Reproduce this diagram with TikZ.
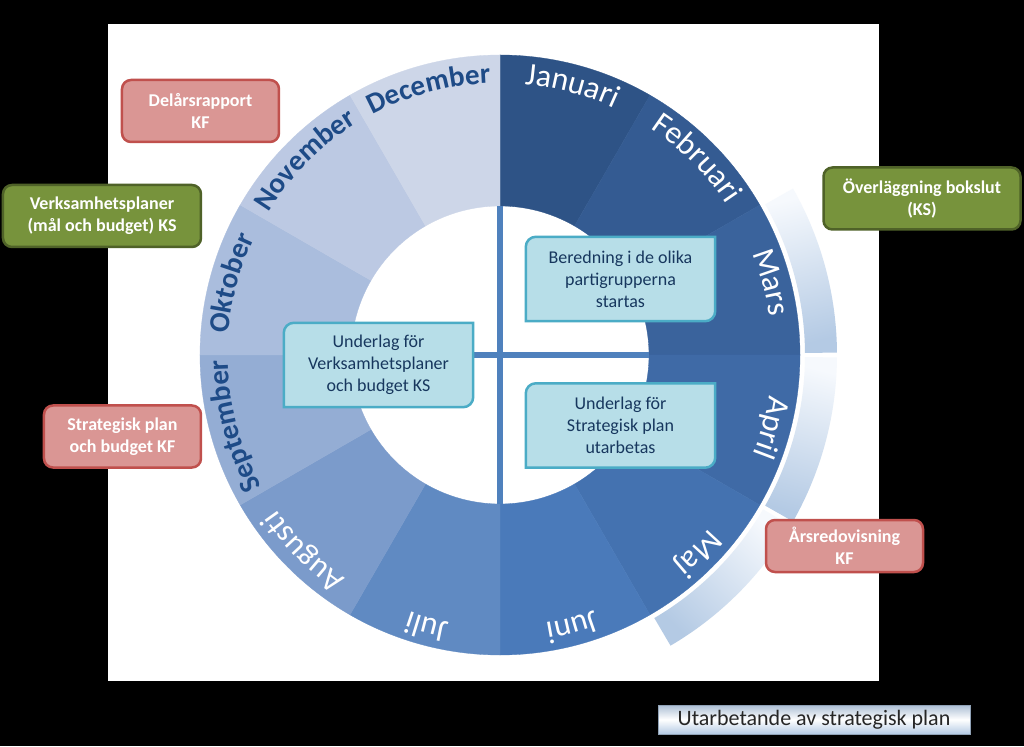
\documentclass[tikz,border=0pt]{standalone}
\usepackage{fontspec}
\setmainfont{Carlito}
\usetikzlibrary{decorations.text}
\pgfdeclarelayer{back}
\pgfsetlayers{back,main}

\definecolor{jan}{RGB}{46,83,134}
\definecolor{feb}{RGB}{52,91,146}
\definecolor{mar}{RGB}{58,99,156}
\definecolor{apr}{RGB}{63,106,166}
\definecolor{maj}{RGB}{68,114,176}
\definecolor{jun}{RGB}{74,122,186}
\definecolor{jul}{RGB}{96,138,194}
\definecolor{aug}{RGB}{123,155,203}
\definecolor{sep}{RGB}{148,173,212}
\definecolor{okt}{RGB}{170,189,221}
\definecolor{nov}{RGB}{188,201,227}
\definecolor{dec}{RGB}{205,214,232}
\definecolor{monthdark}{RGB}{30,75,135}
\definecolor{crossblue}{RGB}{79,129,189}
\definecolor{bandblue}{RGB}{180,202,228}
\definecolor{bandlight}{RGB}{246,249,253}
\definecolor{redfill}{RGB}{218,150,148}
\definecolor{redline}{RGB}{192,80,77}
\definecolor{greenfill}{RGB}{119,147,60}
\definecolor{greenline}{RGB}{79,98,40}
\definecolor{cyanfill}{RGB}{183,222,232}
\definecolor{cyanline}{RGB}{75,172,198}
\definecolor{cyantext}{RGB}{23,55,94}

\newcommand\monthreg{\fontsize{32}{38}\selectfont}
\newcommand\monthbold{\bfseries\fontsize{29}{35}\selectfont}

\tikzset{
    redbox/.style={draw=redline, fill=redfill, line width=2.5pt, rounded corners=9pt,
        text=white, font=\bfseries\fontsize{18}{22}\selectfont, align=center,
        minimum width=157pt, minimum height=62pt, inner sep=2pt}, % red events
    greenbox/.style={redbox, draw=greenline, fill=greenfill}, % green events
    cyanbox/.style={text=cyantext, font=\fontsize{18}{22}\selectfont, align=center,
        minimum width=189pt, minimum height=84pt, inner sep=0pt}, % text only, frame drawn later
    cyanframe/.style={fill=cyanfill, draw=cyanline, line width=2.5pt},
    crossline/.style={draw=crossblue, line width=6pt},
    legendbox/.style={draw=bandblue!80!black, line width=0.6pt, top color=bandblue!85!gray,
        bottom color=bandblue, middle color=white, text=black!85,
        font=\fontsize{22}{26}\selectfont, minimum width=312pt, minimum height=29pt, inner sep=0pt},
}

\begin{document}
\begin{tikzpicture}[x=1pt, y=1pt]

\useasboundingbox (-500,-391) rectangle (524,355);

\begin{pgfonlayer}{back}
\fill[black] (-500,-391) rectangle (524,355);
\fill[white] (-392,331) rectangle (379,-326);
% year ring, january at the top, clockwise
\foreach \mcol [count=\i] in {jan,feb,mar,apr,maj,jun,jul,aug,sep,okt,nov,dec} {
    \pgfmathsetmacro\ma{120-30*\i}
    \pgfmathsetmacro\mb{90-30*\i}
    \fill[\mcol, draw=\mcol, line width=0.3pt] (\ma:149) arc[start angle=\ma, end angle=\mb, radius=149]
        -- (\mb:300) arc[start angle=\mb, end angle=\ma, radius=300] -- cycle;
}
% period band outside the ring
\foreach \a/\b in {29.6/0.4, -0.4/-29.6, -30.4/-59.6} {
    \pgfmathsetmacro\bm{(\a+\b)/2}
    \shade[top color=bandlight, bottom color=bandblue, shading angle=\bm]
        (\a:305) arc[start angle=\a, end angle=\b, radius=305]
        -- (\b:337) arc[start angle=\b, end angle=\a, radius=337] -- cycle;
}
\coordinate (inN) at (90:149);
\coordinate (inS) at (270:149);
\coordinate (inW) at (180:149);
\coordinate (inE) at (0:149);
\draw[crossline] (inN) -- (inS);
\draw[crossline] (inW) -- (inE);
\end{pgfonlayer}

% month names along the ring
\foreach \mname/\mtxt/\mfnt [count=\i] in {Januari/white/\monthreg, Februari/white/\monthreg,
    Mars/white/\monthreg, April/white/\monthreg, Maj/white/\monthreg, Juni/white/\monthreg,
    Juli/white/\monthreg, Augusti/white/\monthreg, September/monthdark/\monthbold,
    Oktober/monthdark/\monthbold, November/monthdark/\monthbold, December/monthdark/\monthbold} {
    \pgfmathsetmacro\ms{105-30*\i}
    \mfnt
    \path[decorate, decoration={text along path, text/.expanded=\mname, text align=center, text color=\mtxt}]
        ({\ms+25}:272) arc[start angle=\ms+25, end angle=\ms-25, radius=272];
}

\node[redbox] (delars) at (-299.5,244) {Delårsrapport\\KF};
\node[greenbox, minimum width=198pt] (verksamhet) at (-398,139) {Verksamhetsplaner\\(mål och budget) KS};
\node[greenbox, minimum width=197pt] (overlagg) at (422,156.5) {Överläggning bokslut\\(KS)};
\node[redbox] (strategiskKF) at (-377.5,-81.5) {Strategisk plan\\och budget KF};
\node[redbox, minimum height=52pt] (arsredov) at (344.5,-191) {Årsredovisning\\KF};

\node[cyanbox] (underlagVP) at (-121.5,-10) {Underlag för\\Verksamhetsplaner\\och budget KS};
\node[cyanbox] (beredning) at (120.5,76) {Beredning i de olika\\partigrupperna\\startas};
\node[cyanbox] (underlagSP) at (120.5,-70.5) {Underlag för\\Strategisk plan\\utarbetas};

\begin{pgfonlayer}{back}
\foreach \b in {underlagVP, beredning, underlagSP}
    \draw[cyanframe] (\b.south west) -- ([yshift=-10pt]\b.north west)
        arc[start angle=180, end angle=90, radius=10pt] -- (\b.north east)
        -- ([yshift=10pt]\b.south east) arc[start angle=0, end angle=-90, radius=10pt] -- cycle;
\end{pgfonlayer}

\node[legendbox] (legend) at (314,-364.5) {Utarbetande av strategisk plan};

\end{tikzpicture}
\end{document}
